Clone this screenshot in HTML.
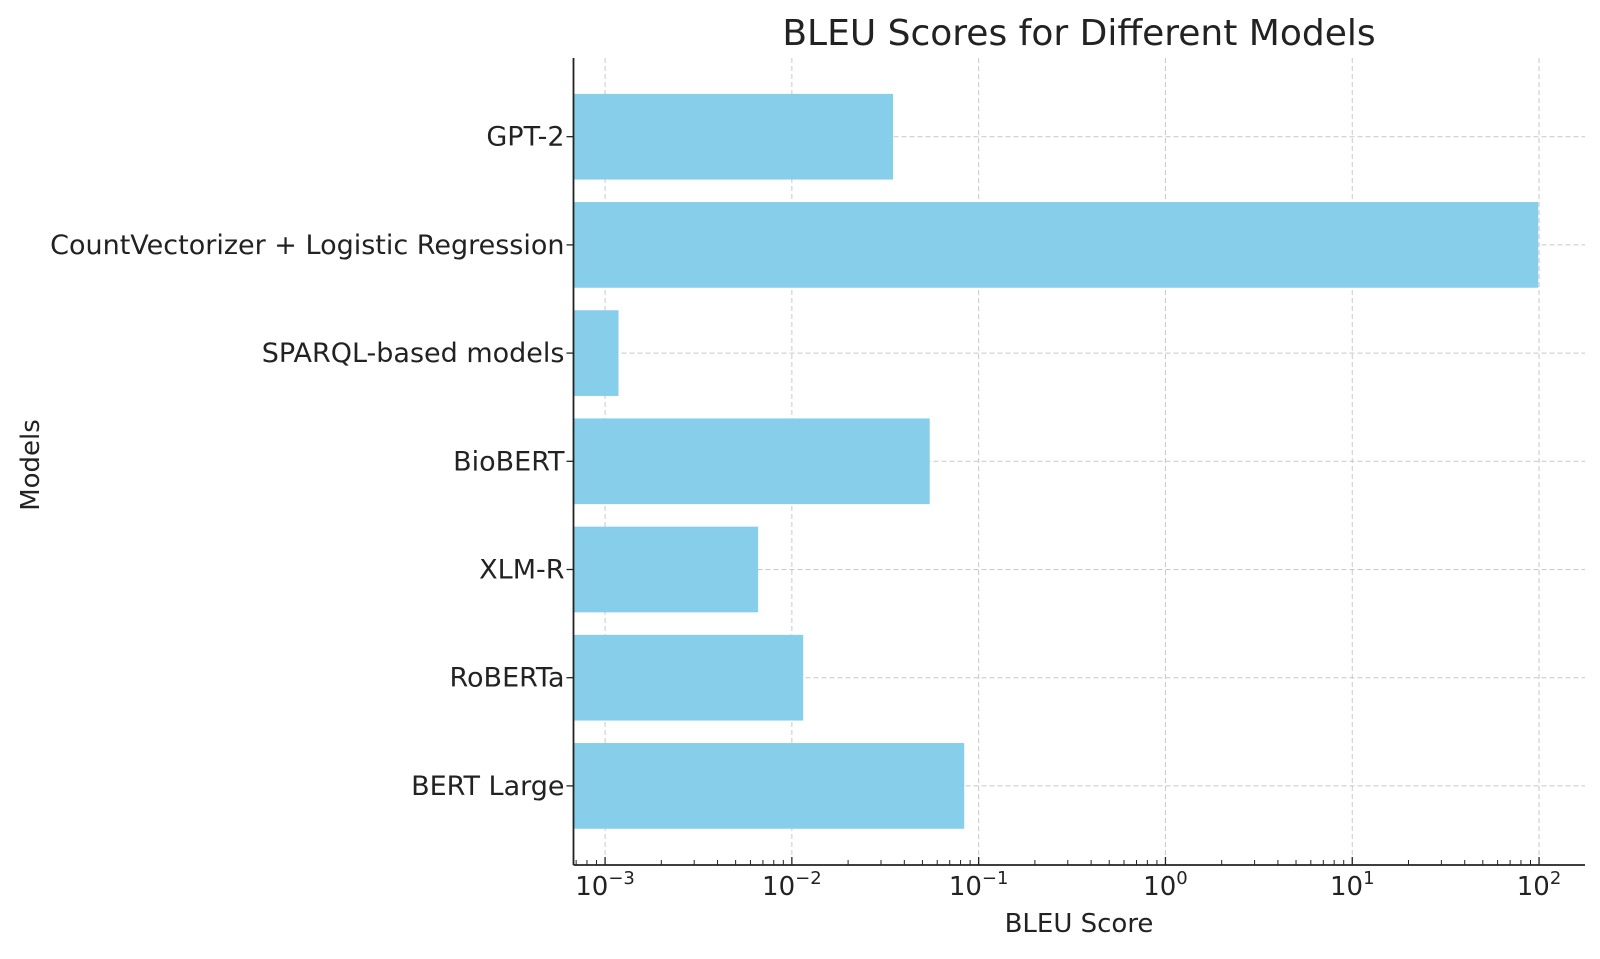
<!DOCTYPE html>
<html><head><meta charset="utf-8"><style>
body{margin:0;background:#fff;}
svg text{font-family:"DejaVu Sans","Liberation Sans",sans-serif;fill:#222;}
</style></head><body>
<svg id="chart" width="1600" height="954" xmlns="http://www.w3.org/2000/svg">
<text x="1079" y="45" font-size="36" text-anchor="middle" fill="#333">BLEU Scores for Different Models</text>
<g id="grid"></g><g id="bars"></g><g id="axes"></g>
<text x="1079" y="932" font-size="26" text-anchor="middle">BLEU Score</text>
<text x="39" y="465" font-size="26" text-anchor="middle" transform="rotate(-90 39 465)">Models</text>
</svg>
<script>
const categories=["GPT-2","CountVectorizer + Logistic Regression","SPARQL-based models","BioBERT","XLM-R","RoBERTa","BERT Large"];
const scores=[0.0348,99,0.00118,0.0547,0.0066,0.0115,0.0837];
const tickExps=[-3,-2,-1,0,1,2];
const NS="http://www.w3.org/2000/svg";
const L=573.5,R=1585,T=58,B=865,minLog=-3.169,maxLog=2.246;
function xs(v){return L+(Math.log10(v)-minLog)/(maxLog-minLog)*(R-L);}
const step=108.2,bh=85.7,firstC=136.7;
function yc(i){return firstC+i*step;}
function mk(tag,attrs,parent){const e=document.createElementNS(NS,tag);for(const k in attrs)e.setAttribute(k,attrs[k]);document.getElementById(parent).appendChild(e);return e;}
tickExps.forEach(e=>{const x=xs(Math.pow(10,e));
 const g=mk('line',{x1:x,x2:x,y1:T,y2:B,stroke:'#c8c8c8','stroke-dasharray':'5,3','stroke-width':1},'grid');
 
 
 const t=mk('line',{x1:x,x2:x,y1:B-8,y2:B,stroke:'#222','stroke-width':1.3},'axes');
 
 
 const lb=mk('text',{x:x,y:B+30,'font-size':26,'text-anchor':'middle'},'axes');
 
 
 lb.innerHTML='10<tspan dy="-11" font-size="18">'+(e<0?'\u2212'+(-e):e)+'</tspan>';
});
for(let e=-4;e<=2;e++)for(let m=2;m<=9;m++){const v=m*Math.pow(10,e);const lv=Math.log10(v);if(lv<minLog||lv>maxLog)continue;const x=xs(v);
 const t=mk('line',{x1:x,x2:x,y1:B-5,y2:B,stroke:'#222','stroke-width':1},'axes');
 
 }
categories.forEach((c,i)=>{const y=yc(i);
 const g=mk('line',{x1:L,x2:R,y1:y,y2:y,stroke:'#c8c8c8','stroke-dasharray':'5,3','stroke-width':1},'grid');
 
 
 const b=mk('rect',{x:L,y:y-bh/2,width:xs(scores[i])-L,height:bh,fill:'#87ceeb'},'bars');
 
 
 const t=mk('line',{x1:L-7,x2:L,y1:y,y2:y,stroke:'#222','stroke-width':1.3},'axes');
 
 
 const lb=mk('text',{x:L-9,y:y+9,'font-size':27,'text-anchor':'end'},'axes');
 
 
 lb.textContent=c;
});
const ax=mk('line',{x1:L,x2:L,y1:T,y2:B,stroke:'#222','stroke-width':1.8},'axes');


const bx=mk('line',{x1:L,x2:R,y1:B,y2:B,stroke:'#222','stroke-width':1.8},'axes');


</script>
</body></html>
